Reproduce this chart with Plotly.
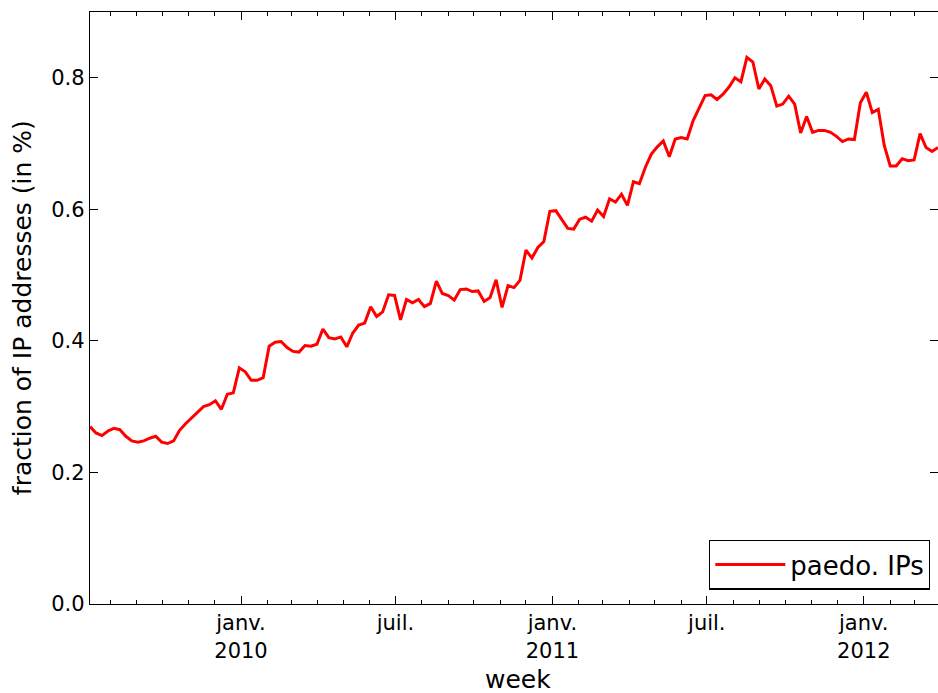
import pandas as pd
import plotly.graph_objects as go

start_week = "2009-07-08"
series_name = "paedo. IPs"
paedo_ips = [
    0.270, 0.260, 0.256, 0.263, 0.267, 0.265, 0.255, 0.248, 0.246, 0.248,
    0.252, 0.255, 0.246, 0.244, 0.248, 0.264, 0.274, 0.283, 0.292, 0.300,
    0.303, 0.309, 0.296, 0.319, 0.321, 0.359, 0.353, 0.340, 0.340, 0.344,
    0.392, 0.398, 0.399, 0.390, 0.384, 0.383, 0.393, 0.392, 0.395, 0.418,
    0.405, 0.403, 0.406, 0.391, 0.412, 0.424, 0.427, 0.452, 0.437, 0.444,
    0.470, 0.469, 0.432, 0.463, 0.458, 0.463, 0.452, 0.457, 0.491, 0.472,
    0.469, 0.462, 0.478, 0.479, 0.475, 0.476, 0.460, 0.466, 0.493, 0.451,
    0.484, 0.481, 0.492, 0.538, 0.526, 0.542, 0.551, 0.597, 0.598, 0.584,
    0.571, 0.570, 0.585, 0.588, 0.582, 0.599, 0.589, 0.616, 0.611, 0.623,
    0.606, 0.642, 0.639, 0.664, 0.684, 0.695, 0.704, 0.680, 0.707, 0.709,
    0.707, 0.735, 0.755, 0.773, 0.774, 0.767, 0.775, 0.786, 0.800, 0.794,
    0.831, 0.824, 0.783, 0.798, 0.788, 0.757, 0.760, 0.772, 0.760, 0.716,
    0.741, 0.717, 0.720, 0.720, 0.717, 0.711, 0.703, 0.707, 0.706, 0.762,
    0.778, 0.747, 0.752, 0.697, 0.666, 0.666, 0.677, 0.674, 0.675, 0.715,
    0.694, 0.688, 0.694,
]
weeks = pd.date_range(start=start_week, periods=len(paedo_ips), freq="7D")

x_tick_dates = ["2010-01-01", "2010-07-01", "2011-01-01", "2011-07-01", "2012-01-01"]
x_tick_labels = ["janv.<br>2010", "juil.", "janv.<br>2011", "juil.", "janv.<br>2012"]
y_tick_vals = [0.0, 0.2, 0.4, 0.6, 0.8]
y_tick_labels = ["0.0", "0.2", "0.4", "0.6", "0.8"]
x_title = "week"
y_title = "fraction of IP addresses (in %)"

FONT = "DejaVu Sans"

fig = go.Figure()
fig.add_trace(go.Scatter(
    x=weeks, y=paedo_ips, mode="lines", name=series_name,
    line=dict(color="#ff0000", width=3),
))

fig.update_layout(
    width=938, height=693,
    margin=dict(l=90, r=0, t=12, b=89),
    paper_bgcolor="white", plot_bgcolor="white",
    font=dict(family=FONT, color="black", size=21),
    showlegend=True,
    legend=dict(
        x=0.9906, y=0.024, xanchor="right", yanchor="bottom",
        bordercolor="black", borderwidth=1.3, bgcolor="white",
        font=dict(family=FONT, size=26, color="black"),
        itemwidth=70,
    ),
    annotations=[
        dict(text=x_title, xref="paper", yref="paper", x=0.505, y=-0.128,
             xanchor="center", yanchor="middle", showarrow=False,
             font=dict(family=FONT, size=25, color="black")),
        dict(text=y_title, xref="paper", yref="paper", x=-0.080, y=0.5,
             xanchor="center", yanchor="middle", showarrow=False, textangle=-90,
             font=dict(family=FONT, size=25, color="black")),
    ],
)

fig.update_xaxes(
    range=[weeks[0], weeks[-1]],
    tickmode="array", tickvals=x_tick_dates, ticktext=x_tick_labels,
    ticks="inside", ticklen=8, tickwidth=1, tickcolor="black",
    minor=dict(ticks="inside", ticklen=4, dtick="M1", tick0="2009-01-01", tickcolor="black"),
    showline=True, linecolor="black", linewidth=1.3, mirror="ticks",
    showgrid=False, zeroline=False, automargin=False,
    tickfont=dict(family=FONT, size=21),
)
fig.update_yaxes(
    range=[0, 0.9],
    tickmode="array", tickvals=y_tick_vals, ticktext=y_tick_labels,
    ticks="inside", ticklen=8, tickwidth=1, tickcolor="black",
    showline=True, linecolor="black", linewidth=1.3, mirror="ticks",
    showgrid=False, zeroline=False, automargin=False,
    tickfont=dict(family=FONT, size=21),
)

fig.write_html(
    "out.html",
    config={"displayModeBar": False},
    post_script="document.body.style.margin='0';document.body.style.overflow='hidden';",
)
